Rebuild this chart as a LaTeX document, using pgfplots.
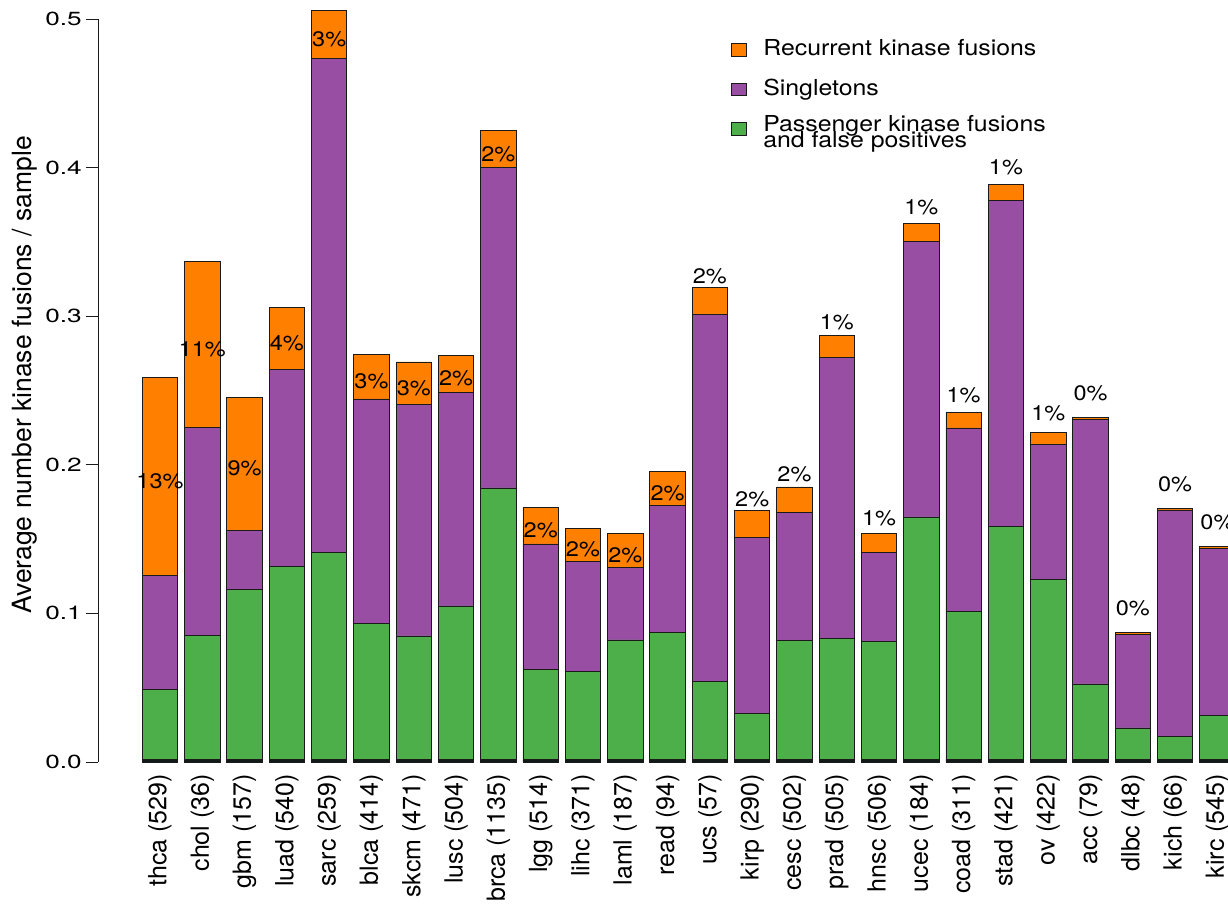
\documentclass[border=0pt]{standalone}
\usepackage{pgfplots}
\pgfplotsset{compat=1.18}
\usepackage{pgfplotstable}
\usepackage{fontspec}
\setmainfont{TeX Gyre Heros}
\newfontfamily\tickfont[FakeStretch=1.38]{TeX Gyre Heros}
\newfontfamily\legfont[FakeStretch=1.13]{TeX Gyre Heros}
\newfontfamily\pctfont[FakeStretch=1.12]{TeX Gyre Heros}
\usetikzlibrary{calc}

\definecolor{recur}{HTML}{FF7F00}
\definecolor{single}{HTML}{984EA3}
\definecolor{passenger}{HTML}{4DAF4A}
\definecolor{basecol}{HTML}{111A18}
\definecolor{edge}{HTML}{1A1A1A}

% average fusions per sample, split by class; label = recurrent share (%),
% dy = baseline of the percentage label relative to the middle of the
% recurrent segment (pt): inside the segment when it is tall enough, above otherwise
\pgfplotstableread{
idx base   green  purple orange label dy
0   0.0017 0.0472 0.0767 0.1333 13 -12
1   0.0017 0.0836 0.1397 0.1121 11 -12
2   0.0017 0.1147 0.0393 0.0899 9  -12
3   0.0017 0.1297 0.1326 0.0417 4  -12
4   0.0017 0.1391 0.3328 0.0322 3  -12
5   0.0017 0.0918 0.1508 0.0301 3  -12
6   0.0017 0.0831 0.1556 0.0288 3  -12
7   0.0017 0.1033 0.1438 0.0249 2  -12
8   0.0017 0.1827 0.2156 0.0248 2  -12
9   0.0017 0.0607 0.0843 0.0244 2  -12
10  0.0017 0.0595 0.0736 0.0225 2  -12
11  0.0017 0.0804 0.0491 0.0224 2  -12
12  0.0017 0.0853 0.0857 0.0227 2  -12
13  0.0017 0.0528 0.2468 0.0181 2  17.5
14  0.0017 0.0311 0.1184 0.0182 2  17.5
15  0.0017 0.0799 0.0866 0.0169 2  17.5
16  0.0017 0.0813 0.1891 0.0148 1  17.5
17  0.0017 0.0793 0.0601 0.0128 1  17.5
18  0.0017 0.1632 0.1857 0.0119 1  17.5
19  0.0017 0.0999 0.1232 0.0105 1  17.5
20  0.0017 0.1571 0.2192 0.0108 1  17.5
21  0.0017 0.1210 0.0911 0.0081 1  17.5
22  0.0017 0.0508 0.1783 0.0009 0  17.5
23  0.0017 0.0212 0.0632 0.0009 0  17.5
24  0.0017 0.0156 0.1523 0.0009 0  17.5
25  0.0017 0.0297 0.1126 0.0009 0  17.5
}\fusions

\begin{document}
\begin{tikzpicture}
\begin{axis}[
  name=main,
  scale only axis,
  width=1130pt, height=743pt,
  xmin=-1.466, xmax=25.25,
  ymin=0, ymax=0.5,
  clip=false,
  ybar stacked,
  bar width=0.837,
  axis y line*=left, axis x line*=bottom,
  x axis line style={draw=none},
  y axis line style={line width=0.9pt, edge},
  xtick={0,...,25},
  xticklabels={thca (529),chol (36),gbm (157),luad (540),sarc (259),blca (414),skcm (471),lusc (504),brca (1135),lgg (514),lihc (371),laml (187),read (94),ucs (57),kirp (290),cesc (502),prad (505),hnsc (506),ucec (184),coad (311),stad (421),ov (422),acc (79),dlbc (48),kich (66),kirc (545)},
  xtick style={draw=none},
  xticklabel style={rotate=90, anchor=east, inner sep=0pt, font=\fontsize{25}{25}\selectfont},
  xticklabel shift=0pt,
  ytick={0,0.1,0.2,0.3,0.4,0.5},
  tick align=outside,
  major tick length=12pt,
  ytick style={line width=0.9pt, edge},
  /pgf/number format/assume math mode=true,
  yticklabel style={/pgf/number format/fixed, /pgf/number format/fixed zerofill,
    /pgf/number format/precision=1, inner sep=0pt,
    font=\tickfont\fontsize{19}{19}\selectfont},
  yticklabel shift=4pt,
  ylabel={Average number kinase fusions / sample},
  ylabel style={at={(axis description cs:-0.0537,0.521)}, anchor=south, inner sep=0pt,
    font=\fontsize{26.5}{26.5}\selectfont},
  reverse legend,
  legend cell align=left,
  legend style={at={(axis description cs:0.5602,0.9674)}, anchor=north west,
    draw=none, fill=none, inner sep=0pt, outer sep=0pt, row sep=26.3pt,
    font=\legfont\fontsize{22}{22}\selectfont,
    nodes={inner sep=0pt, text height=12pt, text depth=0pt},
    /tikz/every odd column/.append style={column sep=17pt}},
  barstyle/.style={draw=edge, line width=0.8pt, fill=#1,
    legend image code/.code={\draw[draw=edge, line width=0.8pt, fill=#1]
      (0pt,-6.25pt) rectangle (14.5pt,6.25pt);}},
]
\addplot[barstyle=basecol, forget plot] table[x=idx, y=base] {\fusions};
\addplot[barstyle=passenger] table[x=idx, y=green] {\fusions};
\addlegendentry{\rlap{\raisebox{3.3pt}{Passenger kinase fusions}}\raisebox{-12.8pt}{and false positives}}
\addplot[barstyle=single] table[x=idx, y=purple] {\fusions};
\addlegendentry{Singletons}
\addplot[barstyle=recur,
  nodes near coords={\pgfplotspointmeta\%},
  point meta=explicit symbolic,
  visualization depends on={\thisrow{dy} \as \labeldy},
  every node near coord/.append style={anchor=base, inner sep=0pt,
    yshift=\labeldy pt, text=black,
    font=\pctfont\fontsize{21}{21}\selectfont},
] table[x=idx, y=orange, meta=label] {\fusions};
\addlegendentry{Recurrent kinase fusions}
\end{axis}
\pgfresetboundingbox
\path[use as bounding box] ($(main.south west)+(-98pt,-148pt)$) rectangle ($(main.north east)+(0pt,19pt)$);
\end{tikzpicture}
\end{document}
